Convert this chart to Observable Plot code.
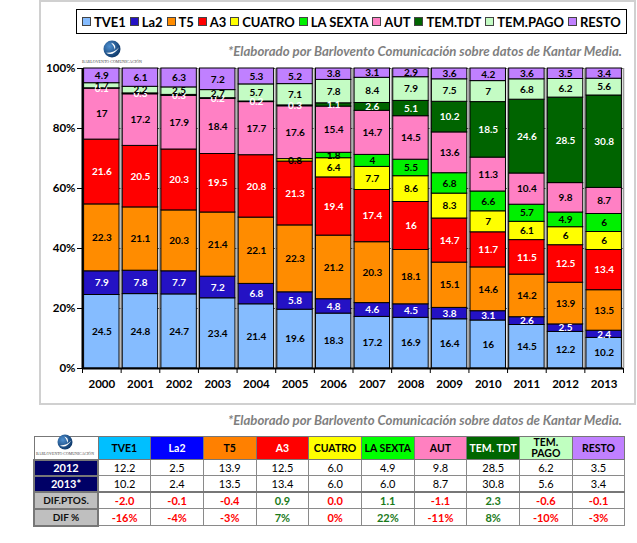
<!DOCTYPE html>
<html><head><meta charset="utf-8">
<script src="https://cdn.jsdelivr.net/npm/d3@7"></script>
<script src="https://cdn.jsdelivr.net/npm/@observablehq/plot@0.6"></script>
<style>
body{margin:0;width:637px;height:543px;position:relative;background:#fff;font-family:Lato,"DejaVu Sans",sans-serif;overflow:hidden}
#frame{position:absolute;left:39px;top:0px;width:597px;height:405px;border:2px solid #d0d0d0;box-sizing:border-box}
#chart{position:absolute;left:0;top:0}
#legend{position:absolute;left:76px;top:9px;width:551px;height:25px;border:1.5px solid #000;box-sizing:border-box;display:flex;justify-content:space-between;align-items:center;padding:0 5px 0 5px;background:#fff}
#legend .it{display:flex;align-items:center;font-weight:bold;font-size:13px;color:#000;white-space:nowrap}
#legend .sw{width:7px;height:7px;border:1px solid #444;margin-right:3px}
.abs{position:absolute}
table{position:absolute;left:33px;top:436px;border-collapse:collapse;table-layout:fixed;width:591px;font-family:Lato,sans-serif}
td{border:1px solid #8a8a8a;text-align:center;padding:0;font-size:11px;line-height:13px;height:14px;color:#000}
tr.hd td{height:21px;font-weight:bold;font-size:10.5px;line-height:11px;border:1.5px solid #777}
td.lab{background:#000066;color:#fff;font-weight:bold;border:2px solid #777}
td.lab2{background:#bfbfbf;color:#111;font-weight:bold;font-size:10px;border:2px solid #777}
tr.dif td{font-weight:bold;height:15px}
tr.first td{border-top:2.5px solid #777}
td.logo{border:none;background:#fff}
</style></head><body>
<div id="frame"></div>
<div id="chart"></div>
<div id="legend"></div>
<svg class="abs" style="left:78px;top:38px" width="70" height="28" id="logo1"></svg>
<svg class="abs" style="left:33px;top:432px" width="64" height="26" id="logo2"></svg>
<svg class="abs" style="left:0;top:40px" width="637" height="22"><text x="228" y="16" textLength="394" lengthAdjust="spacingAndGlyphs" font-family="Lato" font-weight="bold" font-style="italic" font-size="13.5" fill="#7f7f7f">*Elaborado por Barlovento Comunicación sobre datos de Kantar Media.</text></svg>
<svg class="abs" style="left:0;top:409px" width="637" height="22"><text x="228" y="16" textLength="394" lengthAdjust="spacingAndGlyphs" font-family="Lato" font-weight="bold" font-style="italic" font-size="13.5" fill="#7f7f7f">*Elaborado por Barlovento Comunicación sobre datos de Kantar Media.</text></svg>
<script>
// ---------- data ----------
const years = [2000,2001,2002,2003,2004,2005,2006,2007,2008,2009,2010,2011,2012,2013];
const TVE1     = [24.5,24.8,24.7,23.4,21.4,19.6,18.3,17.2,16.9,16.4,16,14.5,12.2,10.2];
const La2      = [7.9,7.8,7.7,7.2,6.8,5.8,4.8,4.6,4.5,3.8,3.1,2.6,2.5,2.4];
const T5       = [22.3,21.1,20.3,21.4,22.1,22.3,21.2,20.3,18.1,15.1,14.6,14.2,13.9,13.5];
const A3       = [21.6,20.5,20.3,19.5,20.8,21.3,19.4,17.4,16,14.7,11.7,11.5,12.5,13.4];
const CUATRO   = [0,0,0,0,0,0.8,6.4,7.7,8.6,8.3,7,6.1,6,6];
const LASEXTA  = [0,0,0,0,0,0,1.8,4,5.5,6.8,6.6,5.7,4.9,6];
const AUT      = [17,17.2,17.9,18.4,17.7,17.6,15.4,14.7,14.5,13.6,11.3,10.4,9.8,8.7];
const TEMTDT   = [0.1,0.3,0.3,0.2,0.2,0.3,1.1,2.6,5.1,10.2,18.5,24.6,28.5,30.8];
const TEMPAGO  = [1.7,2.2,2.5,2.7,5.7,7.1,7.8,8.4,7.9,7.5,7,6.8,6.2,5.6];
const RESTO    = [4.9,6.1,6.3,7.2,5.3,5.2,3.8,3.1,2.9,3.6,4.2,3.6,3.5,3.4];
const seriesNames = ["TVE1","La2","T5","A3","CUATRO","LA SEXTA","AUT","TEM.TDT","TEM.PAGO","RESTO"];
const seriesValues = [TVE1,La2,T5,A3,CUATRO,LASEXTA,AUT,TEMTDT,TEMPAGO,RESTO];
const yTicks = [0,20,40,60,80,100];

// table
const tableHeaders = ["TVE1","La2","T5","A3","CUATRO","LA SEXTA","AUT","TEM. TDT","TEM. PAGO","RESTO"];
const rowLabels = ["2012","2013*","DIF.PTOS.","DIF %"];
const row2012 = [12.2,2.5,13.9,12.5,6.0,4.9,9.8,28.5,6.2,3.5];
const row2013 = [10.2,2.4,13.5,13.4,6.0,6.0,8.7,30.8,5.6,3.4];
const difPts  = [-2.0,-0.1,-0.4,0.9,0.0,1.1,-1.1,2.3,-0.6,-0.1];
const difPct  = [-16,-4,-3,7,0,22,-11,8,-10,-3];

// ---------- styles ----------
const barColor = {"TVE1":"#85bcff","La2":"#2412c4","T5":"#ff8c00","A3":"#ff0000","CUATRO":"#ffff00","LA SEXTA":"#00f000","AUT":"#ff80c4","TEM.TDT":"#006400","TEM.PAGO":"#c4fcc4","RESTO":"#c080ff"};
const labelColor = {"TVE1":"#000","La2":"#fff","T5":"#000","A3":"#fff","CUATRO":"#000","LA SEXTA":"#000","AUT":"#000","TEM.TDT":"#fff","TEM.PAGO":"#000","RESTO":"#000"};
const headBg = ["#00bfff","#0000ff","#ff8000","#ff0000","#ffff00","#00ff00","#ff80c0","#006600","#c0ffc0","#c080ff"];
const headFg = ["#000","#fff","#000","#fff","#000","#000","#000","#fff","#000","#000"];

const data = years.flatMap((yr, i) => seriesNames.map((s, j) => ({year: yr, series: s, value: seriesValues[j][i]})))
  .filter(d => d.value > 0);
const bounds = [years[0] - 0.5, ...years.map(y => y + 0.5)];

const chart = Plot.plot({
  width: 637, height: 400,
  marginLeft: 82, marginRight: 14, marginTop: 68, marginBottom: 32,
  style: {background: "transparent", fontFamily: "Lato, sans-serif", color: "#000"},
  x: {type: "linear", domain: [bounds[0], bounds[bounds.length - 1]], axis: null, label: null},
  y: {domain: [0, 100], axis: null, label: null},
  color: {type: "identity"},
  marks: [
    Plot.ruleY(yTicks.slice(1), {stroke: "#555", strokeWidth: 1.2}),
    Plot.ruleX(bounds.slice(1), {y1: 0, y2: 100, stroke: "#9a9a9a", strokeWidth: 1.6}),
    Plot.rectY(data, Plot.stackY({x: "year", x1: d => d.year - 0.5, x2: d => d.year + 0.5, y: "value", z: "series", order: seriesNames,
      fill: d => barColor[d.series], stroke: "#000", strokeWidth: 1, insetLeft: 1.6, insetRight: 1.6})),
    Plot.text(data, Plot.stackY({x: "year", y: "value", z: "series", order: seriesNames,
      text: d => String(d.value), fill: d => labelColor[d.series], fontWeight: "bold", fontSize: 10})),
    Plot.ruleX([bounds[0]], {y1: 0, y2: 100, stroke: "#000", strokeWidth: 2}),
    Plot.ruleY([0], {stroke: "#000", strokeWidth: 2}),
    Plot.axisY({ticks: yTicks, tickFormat: d => d + "%", tickSize: 5, tickPadding: 2, fontWeight: "bold", fontSize: 11.5, stroke: "#000", label: null}),
    Plot.axisX({ticks: bounds, tickFormat: () => "", tickSize: 5, stroke: "#000", label: null}),
    Plot.axisX({ticks: years, tickFormat: d => String(d), tickSize: 0, tickPadding: 11, fontWeight: "bold", fontSize: 11.5, label: null})
  ]
});
document.getElementById("chart").appendChild(chart);

// legend
const lg = document.getElementById("legend");
seriesNames.forEach(s => {
  const it = document.createElement("div"); it.className = "it";
  const sw = document.createElement("span"); sw.className = "sw"; sw.style.background = barColor[s];
  it.appendChild(sw); it.appendChild(document.createTextNode(s)); lg.appendChild(it);
});

// logos
function drawLogo(svg, cx, cy, r, tw, ty) {
  svg.innerHTML = `<defs><radialGradient id="g${cx}${cy}" cx="35%" cy="35%" r="70%"><stop offset="0" stop-color="#4d8fd0"/><stop offset="1" stop-color="#0b3566"/></radialGradient></defs>
  <circle cx="${cx}" cy="${cy}" r="${r}" fill="url(#g${cx}${cy})"/>
  <path d="M${cx - r*0.7},${cy + r*0.45} Q${cx + r*0.1},${cy + r*0.95} ${cx + r*0.85},${cy - r*0.2} Q${cx + r*0.2},${cy + r*0.5} ${cx - r*0.7},${cy + r*0.45}Z" fill="#fff"/>
  <path d="M${cx - r*0.1},${cy - r*0.75} Q${cx + r*0.55},${cy - r*0.55} ${cx + r*0.35},${cy + r*0.1} Q${cx + r*0.25},${cy - r*0.4} ${cx - r*0.1},${cy - r*0.75}Z" fill="#fff"/>
  <text x="${cx - tw/2}" y="${ty}" textLength="${tw}" lengthAdjust="spacingAndGlyphs" font-family="Liberation Serif" font-size="4.5" fill="#444">BARLOVENTO COMUNICACIÓN</text>`;
}
drawLogo(document.getElementById("logo1"), 34, 11, 8.5, 60, 25);
drawLogo(document.getElementById("logo2"), 32, 10, 7.5, 58, 23);

// table
const tbl = document.createElement("table");
const cg = document.createElement("colgroup");
[64, ...tableHeaders.map(() => 52.7)].forEach(w => { const c = document.createElement("col"); c.style.width = w + "px"; cg.appendChild(c); });
tbl.appendChild(cg);
const hr = tbl.insertRow(); hr.className = "hd";
const lc = hr.insertCell(); lc.className = "logo";
tableHeaders.forEach((h, i) => { const c = hr.insertCell(); c.textContent = h; c.style.background = headBg[i]; c.style.color = headFg[i]; });
[row2012, row2013].forEach((vals, k) => {
  const r = tbl.insertRow();
  const l = r.insertCell(); l.className = "lab"; l.textContent = rowLabels[k];
  vals.forEach(v => { const c = r.insertCell(); c.textContent = v.toFixed(1); });
});
[[difPts, v => v.toFixed(1)], [difPct, v => v + "%"]].forEach(([vals, f], k) => {
  const r = tbl.insertRow(); r.className = "dif" + (k === 0 ? " first" : "");
  const l = r.insertCell(); l.className = "lab2"; l.textContent = rowLabels[k + 2];
  vals.forEach(v => { const c = r.insertCell(); c.textContent = f(v); c.style.color = v > 0 ? "#1a7a1a" : "#ff0000"; });
});
document.body.insertBefore(tbl, document.getElementById("logo2"));
</script>
</body></html>
